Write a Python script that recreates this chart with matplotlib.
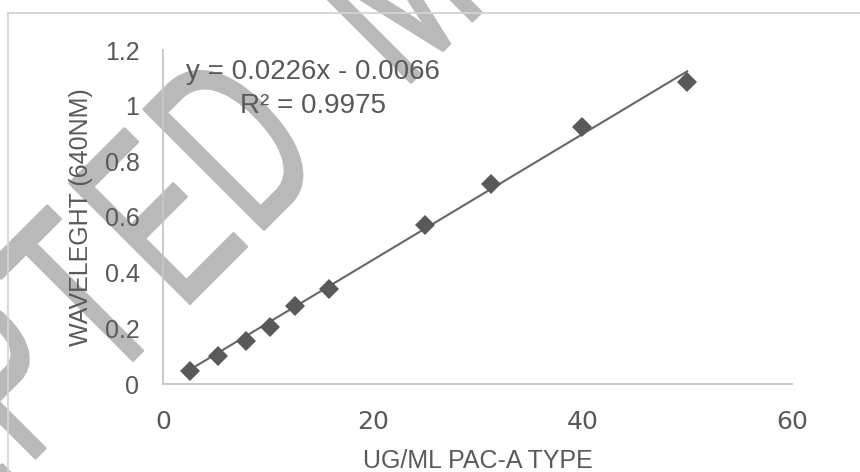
"""
Standard curve: absorbance vs PAC-A concentration, with linear trendline
and a diagonal 'ACCEPTED MANUSCRIPT' watermark behind the chart.
"""
import math

import matplotlib
matplotlib.use("Agg")
import matplotlib.pyplot as plt
from matplotlib import patheffects
from matplotlib.patches import Rectangle
from matplotlib.transforms import Affine2D

# data
conc = [2.6, 5.2, 7.9, 10.2, 12.6, 15.8, 25.0, 31.3, 40.0, 50.0]
absorb = [0.048, 0.102, 0.156, 0.204, 0.281, 0.341, 0.571, 0.719, 0.924, 1.085]
slope = 0.0226
intercept = -0.0066
r_squared = 0.9975

x_ticks = [0, 20, 40, 60]
y_ticks = [0, 0.2, 0.4, 0.6, 0.8, 1.0, 1.2]
y_tick_labels = ["0", "0.2", "0.4", "0.6", "0.8", "1", "1.2"]
x_label = "UG/ML PAC-A TYPE"
y_label = "WAVELEGHT (640NM)"
watermark = "ACCEPTED MANUSCRIPT"

W, H = 860, 472
TEXT = "#595959"
AXIS = "#c6c6c6"
MARK = "#595959"
WM = "#b9b9b9"
SANS = ["Liberation Sans", "DejaVu Sans"]


class Squeeze(patheffects.AbstractPathEffect):
    """Condense each glyph sideways about its own centre, with a soft stroke."""

    def __init__(self, sx, stroke):
        super().__init__()
        self._sx = sx
        self._stroke = stroke

    def draw_path(self, renderer, gc, tpath, affine, rgbFace=None):
        ext = tpath.get_extents()
        cx = (ext.x0 + ext.x1) / 2
        squeeze = Affine2D().translate(-cx, 0).scale(self._sx, 1).translate(cx, 0)
        gc0 = renderer.new_gc()
        gc0.copy_properties(gc)
        gc0.set_linewidth(self._stroke)
        gc0.set_foreground(rgbFace)
        gc0.set_joinstyle("round")
        gc0.set_capstyle("round")
        renderer.draw_path(gc0, tpath, squeeze + affine, rgbFace)
        gc0.restore()


def px(x, y):
    # image pixels (origin top-left) -> figure fraction
    return x / W, 1 - y / H


def draw_watermark(fig):
    # letters run up-right at 45 deg; p = along baseline, q = across it.
    # only the letters that reach into the picture are drawn
    r2 = math.sqrt(2)
    for k, ch in enumerate(watermark):
        if ch == " ":
            continue
        p = -45 + 109 * (k - 6)
        cx, cy = (p + 259) / r2, (259 - p) / r2
        if not (-90 < cx < W + 90 and -90 < cy < H + 90):
            continue
        q = 349
        fx, fy = px((p + q) / r2, (q - p) / r2)
        fig.text(fx, fy, ch, rotation=45, rotation_mode="anchor",
                 ha="center", va="baseline", fontsize=178, color=WM,
                 family=["Liberation Sans"], zorder=-2,
                 path_effects=[Squeeze(0.6, 2.0)])


def main():
    fig = plt.figure(figsize=(W / 100, H / 100), dpi=100)
    fig.patch.set_facecolor("white")

    draw_watermark(fig)

    # chart-area border (runs off the right and bottom edges)
    x0, y0 = px(8, 13)
    fig.patches.append(Rectangle((x0, -0.2), 1.2, y0 + 0.2, transform=fig.transFigure,
                                 fill=False, edgecolor="#d4d4d4", linewidth=1.3, zorder=-1))

    l, b = px(163, 384)
    r, t = px(792, 50)
    ax = fig.add_axes([l, b, r - l, t - b])
    ax.patch.set_alpha(0)

    # trendline over the data range, then the points on top
    tx = [min(conc), max(conc)]
    ax.plot(tx, [slope * v + intercept for v in tx], color="#666666", linewidth=1.5, zorder=2)
    ax.plot(conc, absorb, linestyle="none", marker="D", markersize=10.5,
            markerfacecolor=MARK, markeredgewidth=0, zorder=3)

    sign = "-" if intercept < 0 else "+"
    ax.text(14.3, 1.096, f"y = {slope}x {sign} {abs(intercept)}", ha="center", va="baseline",
            fontsize=20, color=TEXT, family=SANS)
    ax.text(14.3, 0.974, f"R² = {r_squared}", ha="center", va="baseline",
            fontsize=20, color=TEXT, family=SANS)

    ax.set_xlim(0, 60)
    ax.set_ylim(0, 1.2)
    ax.set_xticks(x_ticks)
    ax.set_xticklabels([str(v) for v in x_ticks], fontsize=18, family="DejaVu Sans", color=TEXT)
    ax.set_yticks(y_ticks)
    ax.set_yticklabels(y_tick_labels, fontsize=18, family=SANS, color=TEXT)
    ax.tick_params(axis="x", length=0, pad=19)
    ax.tick_params(axis="y", length=0, pad=17)

    for side in ("top", "right"):
        ax.spines[side].set_visible(False)
    for side in ("left", "bottom"):
        ax.spines[side].set_color(AXIS)
        ax.spines[side].set_linewidth(1.3)

    ax.set_xlabel(x_label, fontsize=18, family=SANS, color=TEXT)
    ax.set_ylabel(y_label, fontsize=18, family=SANS, color=TEXT)
    ax.xaxis.set_label_coords(0.5, -0.195)
    ax.yaxis.set_label_coords(-0.111, 0.5)

    fig.savefig("out.png", dpi=100, facecolor="white")
    plt.close(fig)


if __name__ == "__main__":
    main()
